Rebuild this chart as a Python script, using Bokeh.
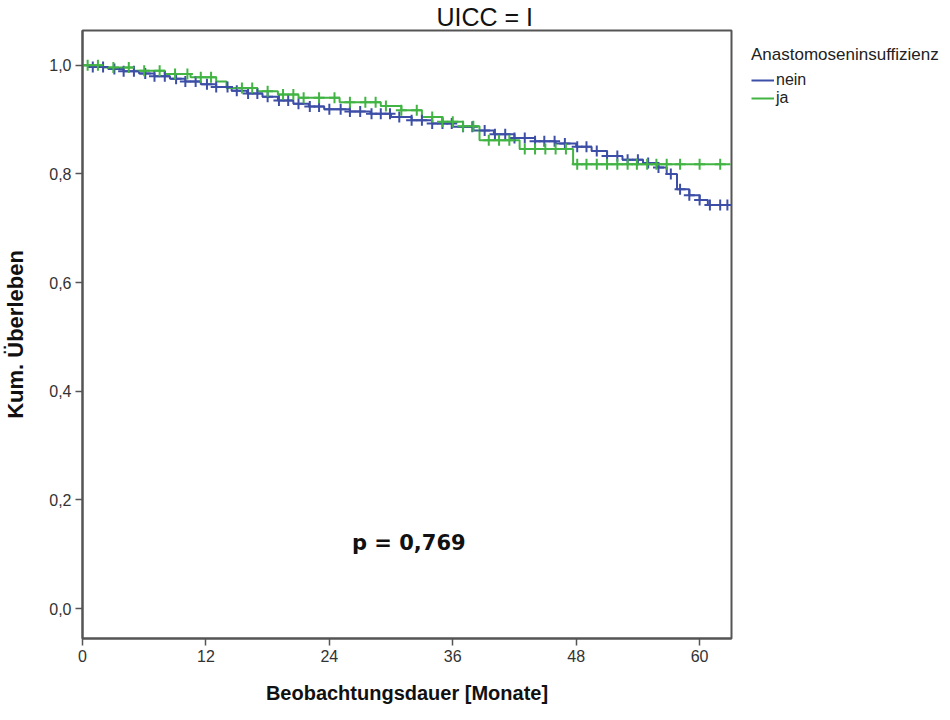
import numpy as np
from bokeh.plotting import figure
from bokeh.models import Range1d, Legend, LegendItem, FixedTicker, CustomJSTickFormatter, Label
from bokeh.embed import file_html
from bokeh.resources import INLINE

# ---- data ----
title_text = "UICC = I"
x_label = "Beobachtungsdauer [Monate]"
y_label = "Kum. Überleben"
legend_title = "Anastomoseninsuffizienz"
group_names = ["nein", "ja"]
x_ticks = [0, 12, 24, 36, 48, 60]
y_ticks = [0.0, 0.2, 0.4, 0.6, 0.8, 1.0]
p_text = "p = 0,769"

nein_times = [0, 1.0, 2.5, 4.0, 5.5, 7.0, 8.5, 10.0, 11.5, 13.0, 14.5, 16.0, 17.5, 19.0, 20.5,
              22.0, 23.5, 26.0, 28.0, 30.0, 32.0, 34.0, 36.0, 38.0, 40.0, 42.0, 44.0, 46.0,
              48.0, 49.5, 51.0, 52.5, 54.5, 56.0, 56.8, 57.8, 59.0, 60.0, 60.8, 63.0]
nein_surv = [1.0, 0.997, 0.993, 0.989, 0.985, 0.980, 0.975, 0.970, 0.965, 0.960, 0.953, 0.948,
             0.942, 0.935, 0.929, 0.924, 0.919, 0.915, 0.911, 0.905, 0.899, 0.893, 0.887,
             0.880, 0.873, 0.866, 0.860, 0.856, 0.850, 0.842, 0.833, 0.826, 0.820, 0.812,
             0.800, 0.772, 0.761, 0.752, 0.743, 0.743]
nein_cens = [1.0, 2.0, 3.1, 4.0, 5.0, 6.1, 7.0, 8.0, 9.1, 10.0, 11.0, 12.1, 13.0, 14.1, 15.0,
             16.1, 17.0, 18.0, 19.1, 20.0, 21.0, 22.1, 23.0, 24.0, 25.1, 26.0, 27.0, 28.1, 29.0,
             29.9, 30.8, 32.0, 33.0, 34.0, 35.0, 35.9, 37.0, 37.9, 39.1, 40.1, 41.1, 42.0, 43.0,
             44.0, 44.9, 45.9, 46.9, 48.1, 49.0, 50.0, 51.0, 52.0, 53.0, 54.0, 55.0, 56.0, 57.2,
             58.1, 59.0, 60.0, 61.0, 62.0, 62.7]

ja_times = [0, 2.0, 5.0, 8.0, 10.5, 13.0, 14.0, 17.0, 19.0, 21.0, 25.0, 29.0, 31.0, 33.0,
            35.0, 37.0, 38.6, 42.5, 47.7, 63.0]
ja_surv = [1.0, 0.996, 0.990, 0.984, 0.978, 0.970, 0.958, 0.952, 0.946, 0.940, 0.932, 0.925,
           0.917, 0.905, 0.896, 0.888, 0.862, 0.846, 0.818, 0.818]
ja_cens = [0.5, 1.5, 3.0, 4.5, 6.0, 7.5, 9.0, 10.2, 11.5, 12.5, 15.5, 16.5, 18.0, 19.5, 20.5,
           21.5, 23.0, 24.5, 26.0, 27.5, 28.5, 29.5, 31.0, 32.5, 34.0, 35.0, 36.0, 37.0, 38.0,
           39.5, 40.5, 41.5, 43.0, 44.0, 45.0, 46.0, 47.0, 48.1, 49.0, 50.0, 51.0, 52.0, 53.0,
           53.9, 54.9, 55.8, 56.8, 58.1, 60.0, 62.0]

colors = ["#3c4ea6", "#41b443"]


def surv_at(times, surv, t):
    idx = np.searchsorted(np.asarray(times), np.asarray(t), side="right") - 1
    return list(np.asarray(surv)[idx])


FONT = "Liberation Sans"

p = figure(frame_width=649, frame_height=608, output_backend="svg", toolbar_location=None,
           x_range=Range1d(0, 63.1), y_range=Range1d(-0.055, 1.064),
           min_border_left=75, min_border_right=10, min_border_top=27, min_border_bottom=69)
p.title.text = title_text
p.title.align = "left"
p.title.offset = 354
p.title.text_font = FONT
p.title.text_font_size = "25px"
p.title.text_font_style = "normal"
p.title.text_color = "#111111"
p.title.standoff = 0

p.xgrid.visible = False
p.ygrid.visible = False
p.outline_line_color = "#555555"
p.outline_line_width = 2
p.background_fill_color = "white"
p.border_fill_color = "white"

for ax in (p.xaxis, p.yaxis):
    ax.axis_line_color = "#555555"
    ax.axis_line_width = 2
    ax.major_tick_line_color = "#555555"
    ax.major_tick_line_width = 1.5
    ax.major_tick_out = 7
    ax.major_tick_in = 0
    ax.minor_tick_line_color = None
    ax.major_label_standoff = 4
    ax.major_label_text_font = FONT
    ax.major_label_text_font_size = "16px"
    ax.major_label_text_color = "#333333"
    ax.axis_label_text_font = FONT
    ax.axis_label_text_font_style = "bold"
    ax.axis_label_text_color = "#111111"

p.xaxis.ticker = FixedTicker(ticks=x_ticks)
p.yaxis.ticker = FixedTicker(ticks=y_ticks)
p.yaxis.formatter = CustomJSTickFormatter(code="return tick.toFixed(1).replace('.', ',');")
p.xaxis.axis_label = x_label
p.yaxis.axis_label = y_label
p.xaxis.axis_label_text_font_size = "20px"
p.yaxis.axis_label_text_font_size = "22px"
p.xaxis.axis_label_standoff = 17
p.yaxis.axis_label_standoff = 18

items = []
series = [(nein_times, nein_surv, nein_cens), (ja_times, ja_surv, ja_cens)]
line_rs = []
for (t, s, c), col in zip(series, colors):
    r = p.step(t, s, mode="after", line_color=col, line_width=2)
    line_rs.append(r)
for (t, s, c), col in zip(series, colors):
    p.scatter(c, surv_at(t, s, c), marker="cross", size=11, line_color=col, line_width=2)

for name, r in zip(group_names, line_rs):
    items.append(LegendItem(label=name, renderers=[r]))

legend = Legend(items=items, title=legend_title, location=(20, 531),
                title_text_font=FONT, title_text_font_size="17px", title_text_color="#222222",
                title_text_font_style="normal",
                label_text_font=FONT, label_text_font_size="16px", label_text_color="#222222",
                border_line_color=None, background_fill_alpha=0,
                glyph_width=23, glyph_height=18, label_standoff=2, spacing=0,
                padding=0, margin=0)
legend.title_standoff = 6
p.add_layout(legend, "right")

p.add_layout(Label(x=26.2, y=0.12, text=p_text, text_font="DejaVu Sans",
                   text_font_style="bold", text_font_size="21px", text_color="#111111",
                   text_baseline="middle", text_align="left"))

open("out.html", "w").write(file_html(p, INLINE))
